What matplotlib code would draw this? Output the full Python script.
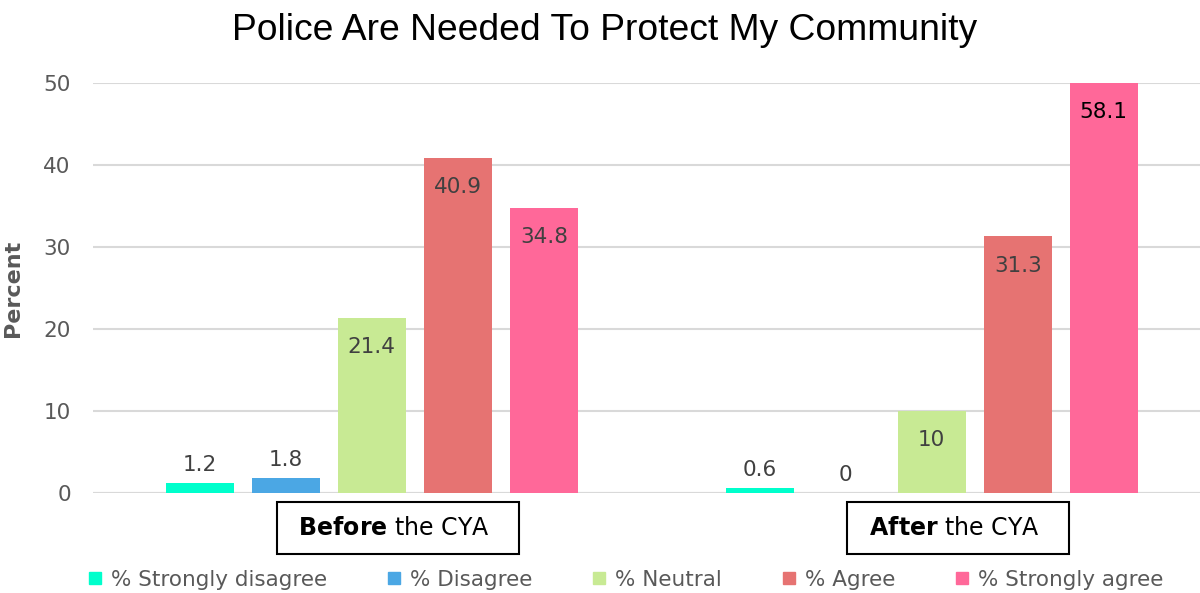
import matplotlib
matplotlib.use("Agg")
import matplotlib.pyplot as plt
from matplotlib.lines import Line2D
import numpy as np

groups = ["Before", "After"]
group_suffix = " the CYA"
series = ["% Strongly disagree", "% Disagree", "% Neutral", "% Agree", "% Strongly agree"]
before = [1.2, 1.8, 21.4, 40.9, 34.8]
after = [0.6, 0.0, 10.0, 31.3, 58.1]
colors = ["#00FFCC", "#4BA7E4", "#C8EA94", "#E67372", "#FF6899"]
yticks = [0, 10, 20, 30, 40, 50]

plt.rcParams['font.family'] = ['DejaVu Sans']
plt.rcParams['mathtext.fontset'] = 'custom'
plt.rcParams['mathtext.bf'] = 'DejaVu Sans:bold'
plt.rcParams['mathtext.rm'] = 'DejaVu Sans'

fig = plt.figure(figsize=(12, 5.93), dpi=100)
ax = fig.add_axes([0.0775, 0.1686, 0.9225, 0.6914])

ymax = 50
width = 0.1214
step = 0.1536
x = np.arange(len(groups))
data = np.array([before, after])
for j, name in enumerate(series):
    xs = x + (j - 2) * step
    vals = data[:, j]
    ax.bar(xs, vals, width=width, color=colors[j], label=name, zorder=3)
    for xi, v in zip(xs, vals):
        lab = f"{v:g}"
        if v >= 5:
            col = "black" if v > ymax else "#404040"
            ax.annotate(lab, (xi, min(v, ymax)), xytext=(0, -21), textcoords="offset points",
                        ha="center", va="center", fontsize=15.5, color=col, zorder=4)
        else:
            ax.annotate(lab, (xi, v), xytext=(0, 13), textcoords="offset points",
                        ha="center", va="center", fontsize=15.5, color="#404040", zorder=4)

ax.set_ylim(0, ymax)
ax.set_xlim(-0.498, 1.479)
ax.set_yticks(yticks)
ax.set_xticks([])
ax.tick_params(axis="y", length=0, labelsize=15.5, labelcolor="#595959", pad=16)
ax.grid(axis="y", color="#D9D9D9", linewidth=1.5, zorder=0)
for s in ax.spines.values():
    s.set_visible(False)
ax.axhline(0, color="#D9D9D9", linewidth=1.5, zorder=2)

for i, g in enumerate(groups):
    ax.annotate(r" $\bf{" + g + "}$" + group_suffix + "   ", (i + 0.047, 0),
                xycoords=ax.get_xaxis_transform(),
                xytext=(0, -25), textcoords="offset points", ha="center", va="center",
                fontsize=17, color="black",
                bbox=dict(boxstyle="square,pad=0.6", fc="white", ec="black", lw=1.5))

ax.set_ylabel("Percent", fontsize=16, fontweight="bold", color="#595959", labelpad=4)
ax.yaxis.set_label_coords(-0.063, 0.5)

fig.text(0.504, 0.948, "Police Are Needed To Protect My Community", ha="center", va="center",
         fontsize=26.8, family="Liberation Sans", color="black")

handles = [Line2D([0], [0], marker="s", linestyle="none", markersize=8,
                  markerfacecolor=c, markeredgecolor=c) for c in colors]
fig.legend(handles, series, loc="center", bbox_to_anchor=(0.52, 0.022), ncol=5, frameon=False,
           fontsize=15.5, labelcolor="#595959", handletextpad=0.25, columnspacing=2.6, handlelength=1.0)

fig.savefig("out.png", dpi=100)
